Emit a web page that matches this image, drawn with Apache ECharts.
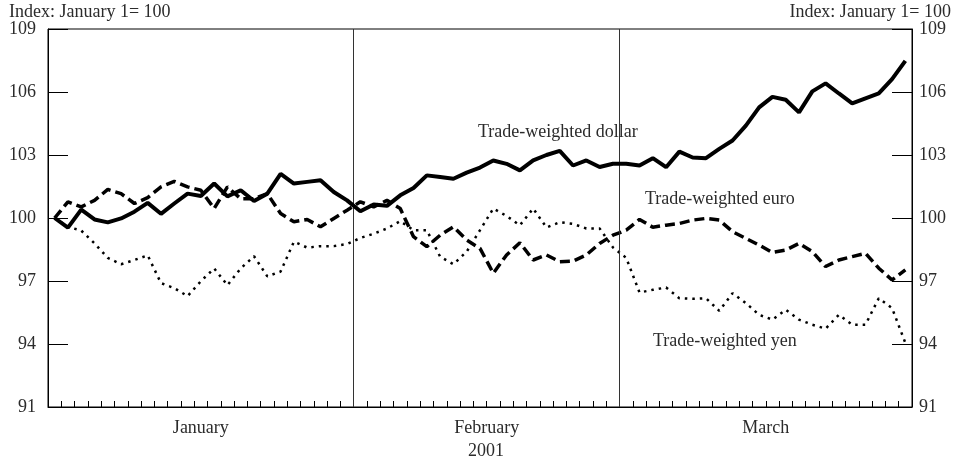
<!DOCTYPE html>
<html>
<head>
<meta charset="utf-8">
<script src="https://cdn.jsdelivr.net/npm/echarts@6/dist/echarts.min.js"></script>
<style>
    html, body { margin: 0; padding: 0; background: #fff; }
    #chart_trade { width: 956px; height: 463px; }
</style>
</head>
<body>
<div id="chart_trade"></div>
<script>
// months and number of business days in each (2001)
var months = ['January', 'February', 'March'];
var monthDays = [23, 20, 22];

// daily index values, January 1 = 100
var dollar = [100.0, 99.54, 100.4, 99.93, 99.79, 99.98, 100.3, 100.72, 100.2, 100.69,
    101.16, 101.05, 101.64, 101.03, 101.32, 100.81, 101.16, 102.1, 101.64, 101.72,
    101.8, 101.24, 100.84, 100.32, 100.64, 100.58, 101.08, 101.43, 102.03, 101.95,
    101.87, 102.16, 102.4, 102.74, 102.58, 102.27, 102.74, 103.0, 103.2, 102.5,
    102.74, 102.43, 102.58, 102.58, 102.5, 102.85, 102.42, 103.16, 102.88, 102.85,
    103.29, 103.69, 104.4, 105.27, 105.77, 105.63, 105.03, 106.03, 106.41, 105.93,
    105.46, 105.7, 105.93, 106.61, 107.48];
var euro = [100.0, 100.77, 100.53, 100.84, 101.36, 101.16, 100.69, 100.97, 101.48, 101.74,
    101.48, 101.32, 100.45, 101.48, 100.92, 100.92, 101.16, 100.21, 99.82, 99.93,
    99.58, 99.98, 100.37, 100.77, 100.53, 100.84, 100.45, 99.11, 98.64, 99.18,
    99.58, 98.95, 98.55, 97.37, 98.24, 98.82, 98.0, 98.24, 97.92, 97.95,
    98.24, 98.79, 99.18, 99.42, 99.93, 99.56, 99.66, 99.74, 99.9, 99.98,
    99.9, 99.35, 99.03, 98.71, 98.36, 98.47, 98.79, 98.4, 97.69, 98.0,
    98.16, 98.32, 97.61, 97.05, 97.53];
var yen = [100.0, 99.58, 99.4, 98.79, 98.1, 97.8, 98.0, 98.22, 96.9, 96.66,
    96.28, 96.99, 97.6, 96.8, 97.6, 98.18, 97.22, 97.45, 98.87, 98.59,
    98.66, 98.66, 98.76, 99.05, 99.25, 99.5, 99.85, 99.42, 99.42, 98.16,
    97.8, 98.4, 99.42, 100.45, 100.1, 99.65, 100.45, 99.55, 99.8, 99.72,
    99.5, 99.5, 98.6, 98.1, 96.45, 96.58, 96.69, 96.18, 96.15, 96.18,
    95.58, 96.42, 95.95, 95.39, 95.16, 95.63, 95.16, 94.92, 94.73, 95.39,
    94.92, 94.92, 96.18, 95.71, 94.05];

var seriesNames = ['Trade-weighted dollar', 'Trade-weighted euro', 'Trade-weighted yen'];
var yMin = 91, yMax = 109, yStep = 3;

var fontFam = '"Liberation Serif", "DejaVu Serif", serif';
var fontSize = 18;
var textCol = '#2b2b2b';

// each day sits in the middle of its slot on the axis
function toPoints(arr) {
    var out = [];
    for (var i = 0; i < arr.length; i++) {
        out.push([i + 0.5, arr[i]]);
    }
    return out;
}

// month boundaries and label positions
var totalDays = 0, bounds = [], mids = [];
for (var m = 0; m < monthDays.length; m++) {
    mids.push(totalDays + monthDays[m] / 2);
    totalDays += monthDays[m];
    if (m < monthDays.length - 1) bounds.push(totalDays);
}
var dayTicks = [];
for (var d = 0; d <= totalDays; d++) dayTicks.push(d);

var Echarts = echarts.init(document.getElementById('chart_trade'));
var yAxisBase = {
    type: 'value',
    min: yMin,
    max: yMax,
    interval: yStep,
    axisLine: { show: true, lineStyle: { color: '#000', width: 1 } },
    axisTick: { show: true, inside: true, length: 20, lineStyle: { color: '#000', width: 1 } },
    splitLine: { show: false },
    axisLabel: { color: textCol, fontFamily: fontFam, fontSize: fontSize }
};
var option = {
    animation: false,
    backgroundColor: '#fff',
    grid: {
        left: 48, right: 44, top: 29, bottom: 56,
        outerBoundsMode: 'none',
        show: true, borderColor: '#000', borderWidth: 1
    },
    xAxis: {
        type: 'value',
        min: 0,
        max: totalDays,
        interval: 1,
        name: '2001',
        nameLocation: 'middle',
        nameGap: 34,
        nameTextStyle: { color: textCol, fontFamily: fontFam, fontSize: fontSize, padding: [0, 0, 0, 12] },
        axisLine: { show: true, lineStyle: { color: '#000', width: 1 } },
        axisTick: { show: true, inside: true, length: 6, customValues: dayTicks,
            lineStyle: { color: '#000', width: 1 } },
        splitLine: { show: false },
        axisLabel: {
            customValues: mids,
            margin: 12,
            color: textCol, fontFamily: fontFam, fontSize: fontSize,
            formatter: function (v) {
                var idx = mids.indexOf(v);
                return idx >= 0 ? months[idx] : '';
            }
        }
    },
    yAxis: [
        echarts.util.merge({ position: 'left', axisLabel: { margin: 12 } }, yAxisBase, false),
        echarts.util.merge({ position: 'right', axisLabel: { margin: 7 } }, yAxisBase, false)
    ],
    series: [
        {
            name: seriesNames[0],
            type: 'line',
            data: toPoints(dollar),
            symbol: 'none',
            lineStyle: { color: '#000', width: 4, type: 'solid' },
            z: 5,
            markLine: {
                silent: true,
                symbol: 'none',
                label: { show: false },
                lineStyle: { color: '#333', width: 1, type: 'solid' },
                data: bounds.map(function (b) { return { xAxis: b }; })
            }
        },
        {
            name: seriesNames[1],
            type: 'line',
            data: toPoints(euro),
            symbol: 'none',
            lineStyle: { color: '#000', width: 3.5, type: [10, 5] },
            z: 4
        },
        {
            name: seriesNames[2],
            type: 'line',
            data: toPoints(yen),
            symbol: 'none',
            lineStyle: { color: '#000', width: 2.5, type: [2.5, 5] },
            z: 3
        }
    ],
    graphic: [
        //axis units
        { type: 'text', left: 9, top: 3,
          style: { text: 'Index: January 1= 100', fill: textCol, font: fontSize + 'px ' + fontFam } },
        { type: 'text', right: 5, top: 3,
          style: { text: 'Index: January 1= 100', fill: textCol, font: fontSize + 'px ' + fontFam } },
        //series labels
        { type: 'text', left: 478, top: 123,
          style: { text: seriesNames[0], fill: textCol, font: fontSize + 'px ' + fontFam } },
        { type: 'text', left: 645, top: 190,
          style: { text: seriesNames[1], fill: textCol, font: fontSize + 'px ' + fontFam } },
        { type: 'text', left: 653, top: 332,
          style: { text: seriesNames[2], fill: textCol, font: fontSize + 'px ' + fontFam } }
    ]
};
Echarts.setOption(option);
</script>
</body>
</html>
